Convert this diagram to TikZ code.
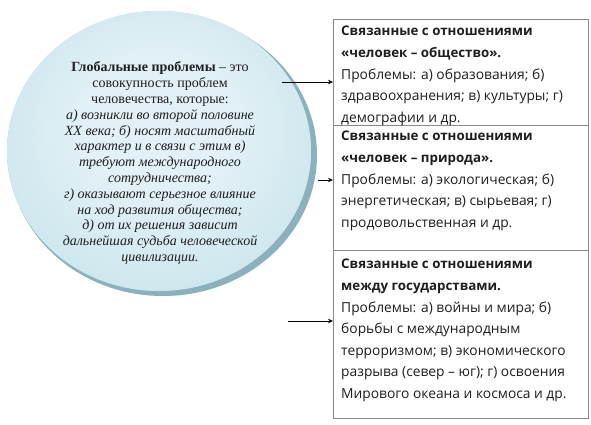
\documentclass[tikz,border=0pt]{standalone}
\usepackage{fontspec}
\setmainfont{Liberation Serif}
\newfontfamily\boxfont{Open Sans}
\usetikzlibrary{shapes.geometric,arrows.meta}
\definecolor{rimcol}{HTML}{8DB0BD}
\definecolor{ballin}{HTML}{E2F1F5}
\definecolor{ballmid}{HTML}{C6E3EB}
\definecolor{ballout}{HTML}{98CAD9}
\definecolor{boxline}{HTML}{8A8A8A}
\definecolor{txt}{HTML}{1E1E1E}
\pgfdeclareradialshading{myball}{\pgfpoint{0bp}{6bp}}{color(0bp)=(ballin); color(12bp)=(ballin); color(34bp)=(ballmid); color(50bp)=(ballout)}
\newcommand{\bhead}[1]{{\fontsize{13.3}{21.6}\selectfont\bfseries #1}}
\tikzset{
  boxstyle/.style={draw=boxline, line width=0.9pt, fill=white, minimum width=255pt, anchor=north west, inner sep=0pt},
  boxtext/.style={font=\boxfont\fontsize{13.8}{21.6}\selectfont, text=txt, align=left, anchor=north west, inner sep=0pt},
  arr/.style={draw=black, line width=0.8pt, -{Stealth[length=5pt,width=4.5pt]}},
}
\begin{document}
\begin{tikzpicture}[x=1pt,y=-1pt]
\useasboundingbox (0,0) rectangle (591,424);
\fill[white] (0,0) rectangle (591,424);
% ball
\fill[rimcol] (163,155) ellipse (154 and 141);
\fill[ballout] (159,151) ellipse (152 and 140);
\shade[shading=myball] (159,151) ellipse (152 and 140);
\node[ellipse, minimum width=304pt, minimum height=280pt, inner sep=0pt] (ball) at (159,151) {};
\node[font=\fontsize{14}{15.8}\selectfont, text=txt, align=center, inner sep=0pt] (balltext) at (160,163) {%
\textbf{Глобальные проблемы} – это\\
совокупность проблем\\
человечества, которые:\\
\textit{а) возникли во второй половине}\\
\textit{XX века; б) носят масштабный}\\
\textit{характер и в связи с этим в)}\\
\textit{требуют международного}\\
\textit{сотрудничества;}\\
\textit{г) оказывают серьезное влияние}\\
\textit{на ход развития общества;}\\
\textit{д) от их решения зависит}\\
\textit{дальнейшая судьба человеческой}\\
\textit{цивилизации.}};
% boxes
\node[boxstyle, minimum height=106pt] (box1) at (333,19) {};
\node[boxstyle, minimum height=125pt] (box2) at (333,125) {};
\node[boxstyle, minimum height=168pt] (box3) at (333,250) {};
\node[boxtext] (t1) at (341,26) {\bhead{Связанные с отношениями}\\
\bhead{«человек – общество».}\\
Проблемы: а) образования; б)\\
здравоохранения; в) культуры; г)\\
демографии и др.};
\node[boxtext] (t2) at (341,131) {\bhead{Связанные с отношениями}\\
\bhead{«человек – природа».}\\
Проблемы: а) экологическая; б)\\
энергетическая; в) сырьевая; г)\\
продовольственная и др.};
\node[boxtext] (t3) at (341,259) {\bhead{Связанные с отношениями}\\
\bhead{между государствами.}\\
Проблемы: а) войны и мира; б)\\
борьбы с международным\\
терроризмом; в) экономического\\
разрыва (север – юг); г) освоения\\
Мирового океана и космоса и др.};
% arrows
\coordinate (s1) at (282,82);
\coordinate (s2) at (318,180);
\coordinate (s3) at (288,321);
\draw[arr] (s1) -- (s1 -| box1.west);
\draw[arr] (s2) -- (s2 -| box2.west);
\draw[arr] (s3) -- (s3 -| box3.west);
\end{tikzpicture}
\end{document}
